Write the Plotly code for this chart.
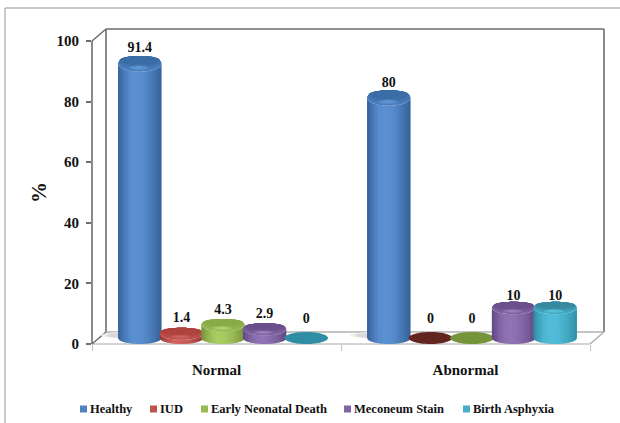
import numpy as np
import plotly.graph_objects as go

# Chart data
groups = ["Normal", "Abnormal"]
series = ["Healthy", "IUD", "Early Neonatal Death", "Meconeum Stain", "Birth Asphyxia"]
normal_values = [91.4, 1.4, 4.3, 2.9, 0]
abnormal_values = [80, 0, 0, 10, 10]
value_labels = [["91.4", "1.4", "4.3", "2.9", "0"], ["80", "0", "0", "10", "10"]]
y_ticks = [0, 20, 40, 60, 80, 100]
legend_key_px = [80, 150, 201, 344, 463]

# Cylinder shading: left edge, highlight, right edge, top cap, cap highlight, empty-bar disc
palette = {
    "Healthy": ("#33609a", "#5a90d2", "#335f95", "#3a6ca6", "#5f97d6", "#2f6aa8"),
    "IUD": ("#8f3633", "#d0605c", "#933835", "#b0423d", "#cf6460", "#642420"),
    "Early Neonatal Death": ("#728f38", "#a9cc62", "#76943a", "#8aa948", "#b6d478", "#76953a"),
    "Meconeum Stain": ("#5e4680", "#8f72b4", "#604982", "#6a4f8a", "#9b80bc", "#5f4880"),
    "Birth Asphyxia": ("#2d8aa3", "#52bcd8", "#2f8ea8", "#37899f", "#5cc0da", "#2f8ea3"),
}

GROUP_PX = 249
BAR_STEP = 41.6 / GROUP_PX
BAR_WIDTH = 43.5 / GROUP_PX
GROUP_PAD = 27 / GROUP_PX
CAP_RY = 2.0
STRIPS = 18
CAP_RINGS = 9


def mix(c1, c2, t):
    a = [int(c1[i:i + 2], 16) for i in (1, 3, 5)]
    b = [int(c2[i:i + 2], 16) for i in (1, 3, 5)]
    return "#%02x%02x%02x" % tuple(round(p + (q - p) * t) for p, q in zip(a, b))


def side_colour(pal, u):
    # u runs from -1 (left edge) to 1 (right edge), brightest just left of centre
    peak = -0.2
    if u < peak:
        return mix(pal[0], pal[1], np.sin((u + 1) / (peak + 1) * np.pi / 2))
    return mix(pal[2], pal[1], np.sin((1 - u) / (1 - peak) * np.pi / 2))


def poly(fig, xs, ys, colour):
    fig.add_trace(go.Scatter(x=xs, y=ys, mode="none", fill="toself", fillcolor=colour,
                             yaxis="y2", showlegend=False, hoverinfo="skip"))


def ellipse(cx, cy, rx, ry):
    t = np.linspace(0, 2 * np.pi, 60)
    return cx + rx * np.cos(t), cy + ry * np.sin(t)


def cylinder(fig, cx, value, pal):
    rx = BAR_WIDTH / 2
    ry_top = CAP_RY + 0.7 * value / 100
    if value == 0:
        xs, ys = ellipse(cx, 0, rx, CAP_RY)
        poly(fig, xs, ys, pal[5])
        return ry_top
    edges = np.linspace(-1, 1, STRIPS + 1)
    for lo, hi in zip(edges[:-1], edges[1:]):
        us = np.linspace(lo, min(hi + 0.03, 1), 5)
        root = np.sqrt(1 - us ** 2)
        xs = cx + rx * us
        bottom = -CAP_RY * root
        top = value - ry_top * root
        poly(fig, np.r_[xs, xs[::-1]], np.r_[bottom, top[::-1]], side_colour(pal, (lo + hi) / 2))
    # Cap: nested rings share the back edge, so the shade runs from the lit front to the dark back
    for k in range(CAP_RINGS):
        t = k / (CAP_RINGS - 1)
        xs, ys = ellipse(cx, value + 0.5 * ry_top * t, rx * (1 - 0.1 * t), ry_top * (1 - 0.5 * t))
        poly(fig, xs, ys, mix(mix(pal[2], pal[1], 0.65), pal[3], t))
    for k in range(4):
        t = k / 3
        xs, ys = ellipse(cx - rx * 0.05, value - ry_top * 0.5, rx * (0.45 - 0.28 * t), ry_top * (0.28 - 0.17 * t))
        poly(fig, xs, ys, mix(mix(pal[2], pal[1], 0.75), pal[4], 0.3 + 0.6 * t))
    return ry_top


def label_lift(value):
    # Small nudges that keep labels clear of the flat discs and short bars
    if value == 0:
        return 1.7
    if value < 5:
        return 0.6
    if value == 10:
        return -0.6
    return 0.0


fig = go.Figure()

# Keeps the percentage axis drawn; the cylinders sit on the overlaid depth-shifted axis
fig.add_trace(go.Scatter(x=[None], y=[None], mode="none", showlegend=False, hoverinfo="skip"))

# Soft floor shadows beside the tall bars
for g in range(2):
    cx = g + GROUP_PAD + BAR_STEP * 0.2
    for scale, shade in ((1.0, "#eeeeee"), (0.8, "#d9d9d9")):
        xs, ys = ellipse(cx, 0.9, BAR_WIDTH * 0.6 * scale, 1.1 * scale)
        poly(fig, xs, ys, shade)

# Cylinders, left to right so each one overlaps the previous
label_x, label_y, label_text = [], [], []
for g, values in enumerate([normal_values, abnormal_values]):
    for i, (name, value) in enumerate(zip(series, values)):
        cx = g + GROUP_PAD + (i + 0.5) * BAR_STEP
        ry = cylinder(fig, cx, value, palette[name])
        label_x.append(cx)
        label_y.append(value + ry + label_lift(value))
        label_text.append(value_labels[g][i])

fig.add_trace(go.Scatter(x=label_x, y=label_y, text=label_text, mode="text",
                         textposition="top center", yaxis="y2", showlegend=False,
                         hoverinfo="skip",
                         textfont=dict(family="Liberation Serif", size=14, color="#111111",
                                       weight="bold")))

# Plot-area fractions for the 3D frame
WIDTH, HEIGHT = 620, 423
LEFT, TOP, RIGHT, BOTTOM = 92, 29, 16, 79
PLOT_W, PLOT_H = WIDTH - LEFT - RIGHT, HEIGHT - TOP - BOTTOM
dx = 14 / PLOT_W
dy = 12 / PLOT_H
fx = GROUP_PX * 2 / PLOT_W
wall = "#6e6e6e"
floor_line = "#b0b0b0"
top = (344 - 41) / PLOT_H


def px_x(p):
    return (p - LEFT) / PLOT_W


def px_y(p):
    return (HEIGHT - BOTTOM - p) / PLOT_H


def seg(x0, y0, x1, y1, colour, width=1.6):
    return dict(type="line", xref="paper", yref="paper", x0=x0, y0=y0, x1=x1, y1=y1,
                line=dict(color=colour, width=width), layer="below")


shapes = [
    seg(dx, dy, dx, 1, wall),
    seg(dx, 1, dx + fx, 1, wall),
    seg(dx + fx, 1, dx + fx, dy, wall),
    seg(dx, dy, dx + fx, dy, floor_line),
    seg(0, 0, fx, 0, "#c4c4c4"),
    seg(0, 0, dx, dy, wall),
    seg(fx, 0, dx + fx, dy, floor_line),
    seg(0, 0, 0, top, wall),
    seg(0, top, dx, 1, wall),
    # outer chart border
    seg(px_x(5), px_y(8), px_x(620), px_y(8), "#b4b4b4", 1.4),
    seg(px_x(5), px_y(8), px_x(5), px_y(423), "#b4b4b4", 1.4),
]

serif_bold = dict(family="Liberation Serif", color="#111111", weight="bold")

# Legend row: a small square key followed by its series name
annotations = [dict(text="%", xref="paper", yref="paper", x=px_x(39), y=px_y(193),
                    textangle=-90, showarrow=False, xanchor="center", yanchor="middle",
                    font=dict(size=21, **serif_bold))]
for name, key in zip(series, legend_key_px):
    shapes.append(dict(type="rect", xref="paper", yref="paper", x0=px_x(key), x1=px_x(key + 7),
                       y0=px_y(412.5), y1=px_y(405.5), layer="above",
                       fillcolor=mix(palette[name][1], palette[name][0], 0.3),
                       line=dict(width=0)))
    annotations.append(dict(text=name, xref="paper", yref="paper", x=px_x(key + 8), y=px_y(409),
                            xanchor="left", yanchor="middle", showarrow=False,
                            font=dict(size=12.5, **serif_bold)))

fig.update_layout(
    width=WIDTH, height=HEIGHT,
    margin=dict(l=LEFT, r=RIGHT, t=TOP, b=BOTTOM, autoexpand=False),
    paper_bgcolor="white", plot_bgcolor="white",
    shapes=shapes, annotations=annotations,
    showlegend=False,
    xaxis=dict(range=[0, PLOT_W / GROUP_PX], tickvals=[0.5, 1.5], ticktext=groups,
               showgrid=False, zeroline=False, showline=False, ticks="", ticklabelstandoff=15,
               tickfont=dict(size=15, **serif_bold),
               minor=dict(tickvals=[0, 1, 2], ticks="outside", ticklen=6, tickcolor="#c4c4c4",
                          showgrid=False)),
    yaxis=dict(range=[0, PLOT_H / 3.03], tickvals=y_ticks, showgrid=False, zeroline=False,
               showline=False, ticks="outside", ticklen=5, tickcolor=wall, tickwidth=1.5,
               ticklabelstandoff=4,
               tickfont=dict(size=15, **serif_bold)),
    yaxis2=dict(range=[-2, 103], overlaying="y", visible=False),
)

fig.write_html("out.html", config=dict(displayModeBar=False))
